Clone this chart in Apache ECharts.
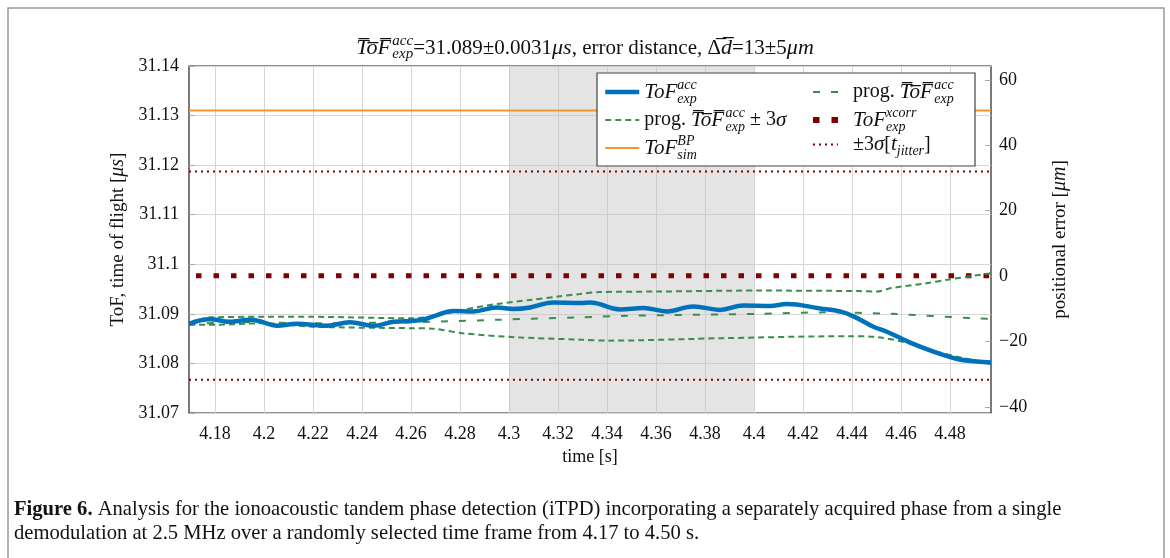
<!DOCTYPE html>
<html>
<head>
<meta charset="utf-8">
<script src="https://cdn.jsdelivr.net/npm/echarts@6/dist/echarts.min.js"></script>
<style>
html, body { margin: 0; padding: 0; background: #fff; }
#fig { width: 1170px; height: 558px; }
</style>
</head>
<body>
<div id="fig"></div>
<script>
// time axis ticks and span
var xTicks = [4.18, 4.2, 4.22, 4.24, 4.26, 4.28, 4.3, 4.32, 4.34, 4.36, 4.38, 4.4, 4.42, 4.44, 4.46, 4.48];
var tSpan = [4.1694, 4.4967];
var errTicks = [-40, -20, 0, 20, 40, 60];
var errSpan = [-41.9, 64.3];
var shadeSpan = [4.3, 4.4];

// ToF_exp^acc (blue)
var tAcc = [4.1694, 4.1780, 4.1861, 4.1943, 4.1984, 4.2052, 4.2134, 4.2256, 4.2351, 4.2446,
            4.2528, 4.2637, 4.2691, 4.2773, 4.2855, 4.2950, 4.3018, 4.3086, 4.3181, 4.3290,
            4.3331, 4.3453, 4.3548, 4.3644, 4.3752, 4.3861, 4.3956, 4.4065, 4.4134, 4.4270,
            4.4351, 4.4406, 4.4487, 4.4542, 4.4637, 4.4732, 4.4828, 4.4909, 4.4967];
var vAcc = [31.0880, 31.0889, 31.0884, 31.0888, 31.0885, 31.0876, 31.0880, 31.0876, 31.0883, 31.0876,
            31.0884, 31.0887, 31.0895, 31.0906, 31.0905, 31.0913, 31.0910, 31.0913, 31.0923, 31.0922,
            31.0923, 31.0909, 31.0912, 31.0905, 31.0915, 31.0908, 31.0917, 31.0916, 31.0920, 31.0911,
            31.0905, 31.0895, 31.0874, 31.0864, 31.0842, 31.0824, 31.0809, 31.0804, 31.0802];

// prog. mean (green, loose dashes)
var tMean = [4.1694, 4.1930, 4.2200, 4.2605, 4.2750, 4.2950, 4.3290, 4.3480, 4.4020, 4.4290, 4.4560, 4.4900, 4.4967];
var vMean = [31.0880, 31.0883, 31.0881, 31.0883, 31.0885, 31.0888, 31.0893, 31.0896, 31.0900, 31.0903, 31.0900, 31.0891, 31.0890];

// prog. mean +3 sigma
var tUp = [4.1694, 4.1780, 4.2000, 4.2200, 4.2605, 4.2690, 4.2810, 4.2950, 4.3085, 4.3200,
           4.3290, 4.3370, 4.3610, 4.4020, 4.4425, 4.4500, 4.4560, 4.4695, 4.4790, 4.4967];
var vUp = [31.0881, 31.0893, 31.0894, 31.0894, 31.0891, 31.0895, 31.0908, 31.0920, 31.0928, 31.0935,
           31.0940, 31.0944, 31.0945, 31.0947, 31.0946, 31.0945, 31.0952, 31.0961, 31.0969, 31.0982];

// prog. mean -3 sigma
var tLo = [4.1694, 4.1800, 4.2000, 4.2200, 4.2605, 4.2690, 4.2810, 4.3020, 4.3290, 4.3410,
           4.3880, 4.4385, 4.4505, 4.4630, 4.4765, 4.4967];
var vLo = [31.0878, 31.0878, 31.0881, 31.0874, 31.0871, 31.0870, 31.0861, 31.0853, 31.0848, 31.0846,
           31.0851, 31.0855, 31.0853, 31.0841, 31.0821, 31.0799];

var simTof = 31.131;        // ToF_sim^BP
var xcorrTof = 31.0977;     // ToF_exp^xcorr
var jitterBand = [31.1187, 31.0767];

function pairs(ts, vs) {
    var out = [];
    for (var i = 0; i < ts.length; i++) out.push([ts[i], vs[i]]);
    return out;
}
function flat(v) { return [[tSpan[0], v], [tSpan[1], v]]; }
function ov(s) { return s.split('').map(function (c) { return c + '\u0305'; }).join(''); }

var serif = '"Liberation Serif", "DejaVu Serif", serif';
// rich styles: r roman, m math italic, z zero-width superscript, zs zero-width subscript
function mathRich(big, small) {
    return {
        r:  { fontFamily: serif, fontSize: big - 1, lineHeight: 28, color: '#111', fontWeight: 'normal' },
        m:  { fontFamily: serif, fontSize: big, lineHeight: 28, fontStyle: 'italic', color: '#111', fontWeight: 'normal' },
        z:  { fontFamily: serif, fontSize: small, lineHeight: 15, fontStyle: 'italic', verticalAlign: 'top', align: 'left', width: 0.01, color: '#111', fontWeight: 'normal' },
        zs: { fontFamily: serif, fontSize: small, lineHeight: 15, fontStyle: 'italic', verticalAlign: 'bottom', align: 'left', width: 0.01, color: '#111', fontWeight: 'normal' },
        p:  { fontFamily: serif, fontSize: small, lineHeight: 15, fontStyle: 'italic', verticalAlign: 'top', color: '#111', fontWeight: 'normal' },
        s:  { fontFamily: serif, fontSize: small, lineHeight: 15, fontStyle: 'italic', verticalAlign: 'bottom', color: '#111', fontWeight: 'normal' },
        sp: { fontSize: 10, lineHeight: 28, width: 10 },
        k:  { fontSize: 2, lineHeight: 28, width: 1.5 }
    };
}
var legendRich = mathRich(21, 14);
var titleRich = mathRich(22, 15);
var nameRich = mathRich(20, 14);

var ovToF = '{m|' + ov('ToF') + '}{k| }';

var legendText = {
    acc:    '{m|ToF}{z|acc}{s|exp}',
    mean:   '{sp| }{r|prog. }' + ovToF + '{z|acc}{s|exp}',
    pm3s:   '{r|prog. }' + ovToF + '{z|acc}{s|exp}{r| ± 3}{m|σ}',
    sim:    '{m|ToF}{z|BP}{s|sim}',
    xcorr:  '{sp| }{m|ToF}{zs|exp}{p|xcorr}',
    jitter: '{sp| }{r|±3}{m|σ}{r|[}{m|t}{s|jitter}{r|]}'
};

var green = '#3c8c50';
var maroon = '#7f0000';
var blue = '#0072bd';

var dom = document.getElementById('fig');
var myChart = echarts.init(dom);

var option = {
    animation: false,
    backgroundColor: '#fff',
    title: {
        text: ovToF + '{z|acc}{s|exp}{r|=31.089±0.0031}{m|μs}{r|, error distance, }{r|' + ov('Δ') + '}{m|' + ov('d') + '}{r|=13±5}{m|μm}',
        left: 'center',
        top: 29,
        textAlign: 'left',
        textStyle: { fontWeight: 'normal', rich: titleRich }
    },
    legend: [{
        data: [
            { name: 'acc', lineStyle: { width: 4.5 } },
            { name: 'pm3s', lineStyle: { width: 2 } },
            { name: 'sim', lineStyle: { width: 2 } }
        ],
        orient: 'vertical',
        left: 603, top: 78,
        itemWidth: 34, itemHeight: 14, itemGap: 0,
        padding: 0,
        z: 60,
        itemStyle: { color: 'rgba(0,0,0,0)', borderWidth: 0 },
        formatter: function (n) { return legendText[n]; },
        textStyle: { rich: legendRich }
    }, {
        data: [
            { name: 'mean', lineStyle: { width: 2 } },
            { name: 'xcorr', lineStyle: { width: 6, type: [6.5, 12], dashOffset: 0 } },
            { name: 'jitter', lineStyle: { width: 2 } }
        ],
        orient: 'vertical',
        left: 810, top: 78,
        itemWidth: 25, itemHeight: 14, itemGap: 0,
        padding: 0,
        z: 60,
        itemStyle: { color: 'rgba(0,0,0,0)', borderWidth: 0 },
        formatter: function (n) { return legendText[n]; },
        textStyle: { rich: legendRich }
    }],
    graphic: [
        { type: 'rect', z: 50, shape: { x: 597, y: 73, width: 378, height: 93 },
          style: { fill: '#fff', stroke: '#444', lineWidth: 1.2 } },
        { type: 'rect', z: -10, silent: true, shape: { x: 8, y: 8, width: 1156, height: 570 },
          style: { fill: 'none', stroke: '#9a9a9a', lineWidth: 1.5 } },
        { type: 'text', left: 14, top: 499, z: 10,
          style: { text: '{b|Figure 6.} Analysis for the ionoacoustic tandem phase detection (iTPD) incorporating a separately acquired phase from a single',
                   font: '20.6px ' + serif, fill: '#111',
                   rich: { b: { fontWeight: 'bold', fontSize: 20.6, fontFamily: serif, fill: '#111' } } } },
        { type: 'text', left: 14, top: 523, z: 10,
          style: { text: 'demodulation at 2.5 MHz over a randomly selected time frame from 4.17 to 4.50 s.',
                   font: '20.6px ' + serif, fill: '#111' } }
    ],
    grid: {
        left: 189, right: 179, top: 66, bottom: 145,
        show: true, borderColor: '#222', borderWidth: 1.2,
        containLabel: false
    },
    xAxis: {
        type: 'value',
        min: tSpan[0], max: tSpan[1],
        name: 'time [s]',
        nameLocation: 'middle',
        nameGap: 35,
        nameTextStyle: { fontFamily: serif, fontSize: 18, color: '#111' },
        axisLine: { show: false },
        axisTick: { show: false, customValues: xTicks },
        axisLabel: {
            customValues: xTicks,
            margin: 12,
            fontFamily: serif, fontSize: 18, color: '#111',
            formatter: function (v) { return String(parseFloat(v.toFixed(2))); }
        },
        splitLine: { show: true, lineStyle: { color: '#d6d6d6', width: 1 } }
    },
    yAxis: [{
        type: 'value',
        min: 31.07, max: 31.14, interval: 0.01,
        name: '{r|ToF, time of flight [}{m|μs}{r|]}',
        nameLocation: 'middle',
        nameRotate: 90,
        nameGap: 57,
        nameTextStyle: { rich: nameRich },
        axisLine: { show: false },
        axisTick: { show: true, inside: true, length: 6, lineStyle: { color: '#aaa' } },
        axisLabel: {
            margin: 10,
            fontFamily: serif, fontSize: 18, color: '#111',
            formatter: function (v) { return String(parseFloat(v.toFixed(2))); }
        },
        splitLine: { show: true, lineStyle: { color: '#d6d6d6', width: 1 } }
    }, {
        type: 'value',
        position: 'right',
        min: errSpan[0], max: errSpan[1],
        name: '{r|positional error [}{m|μm}{r|]}',
        nameLocation: 'middle',
        nameRotate: 90,
        nameGap: 55,
        nameTextStyle: { rich: nameRich },
        axisLine: { show: false },
        axisTick: { show: true, inside: true, length: 6, customValues: errTicks, lineStyle: { color: '#aaa' } },
        axisLabel: {
            customValues: errTicks,
            margin: 8,
            fontFamily: serif, fontSize: 18, color: '#111',
            formatter: function (v) { return String(Math.round(v)).replace('-', '\u2212'); }
        },
        splitLine: { show: false }
    }],
    series: [{
        name: 'sim', type: 'line', data: flat(simTof), showSymbol: false, symbol: 'none',
        lineStyle: { color: '#f5962a', width: 2 }, itemStyle: { color: '#f5962a' }, z: 2
    }, {
        name: 'jitter', type: 'line', data: flat(jitterBand[0]), symbol: 'none',
        lineStyle: { color: maroon, width: 2, type: [2, 4] }, itemStyle: { color: maroon }, z: 2
    }, {
        name: 'jitter', type: 'line', data: flat(jitterBand[1]), symbol: 'none',
        lineStyle: { color: maroon, width: 2, type: [2, 4] }, itemStyle: { color: maroon }, z: 2
    }, {
        name: 'xcorr', type: 'line', data: flat(xcorrTof), symbol: 'none',
        lineStyle: { color: maroon, width: 5, type: [5.5, 12], dashOffset: -7 }, itemStyle: { color: maroon }, z: 2
    }, {
        name: 'pm3s', type: 'line', data: pairs(tUp, vUp), symbol: 'none', smooth: 0.3,
        lineStyle: { color: green, width: 2, type: [6, 4] }, itemStyle: { color: green }, z: 3
    }, {
        name: 'pm3s', type: 'line', data: pairs(tLo, vLo), symbol: 'none', smooth: 0.3,
        lineStyle: { color: green, width: 2, type: [6, 4] }, itemStyle: { color: green }, z: 3
    }, {
        name: 'mean', type: 'line', data: pairs(tMean, vMean), symbol: 'none', smooth: 0.3,
        lineStyle: { color: green, width: 2, type: [7, 11] }, itemStyle: { color: green }, z: 3
    }, {
        name: 'acc', type: 'line', data: pairs(tAcc, vAcc), symbol: 'none', smooth: 0.4,
        lineStyle: { color: blue, width: 4.5 }, itemStyle: { color: blue }, z: 4
    }, {
        name: 'shade', type: 'line', data: [], z: 10,
        markArea: {
            silent: true,
            itemStyle: { color: 'rgba(196,196,196,0.45)' },
            data: [[{ xAxis: shadeSpan[0] }, { xAxis: shadeSpan[1] }]]
        }
    }]
};

if (option && typeof option === 'object') {
    myChart.setOption(option, true);
}
</script>
</body>
</html>
